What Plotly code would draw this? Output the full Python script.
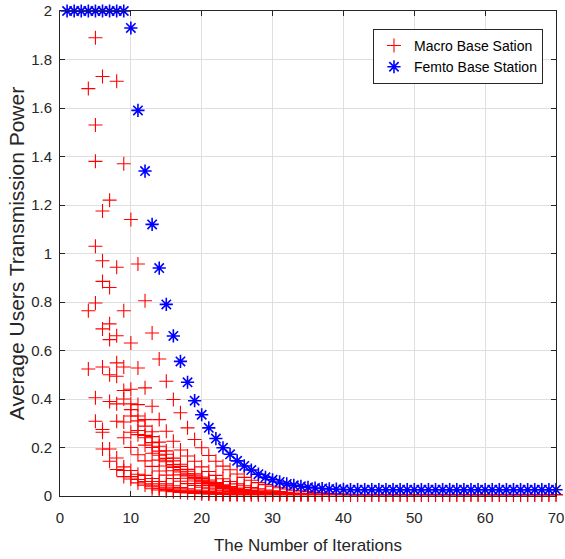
import plotly.graph_objects as go

# ---------------- data ----------------
iterations_ticks = [0, 10, 20, 30, 40, 50, 60, 70]
power_ticks = [0, 0.2, 0.4, 0.6, 0.8, 1, 1.2, 1.4, 1.6, 1.8, 2]

# Femto base station: average power per iteration (iterations 1..70)
femto_power = [2.0, 2.0, 2.0, 2.0, 2.0, 2.0, 2.0, 2.0, 2.0,
               1.93, 1.59, 1.34, 1.12, 0.94, 0.79, 0.66, 0.555, 0.469, 0.393,
               0.335, 0.281, 0.237, 0.199, 0.172, 0.145, 0.124, 0.107, 0.090, 0.077,
               0.067, 0.058, 0.050, 0.044, 0.040, 0.036, 0.033, 0.031, 0.029, 0.028,
               0.027, 0.026, 0.026, 0.026, 0.026, 0.026, 0.026, 0.026, 0.026, 0.026,
               0.026, 0.026, 0.026, 0.026, 0.026, 0.026, 0.026, 0.026, 0.026, 0.026,
               0.026, 0.026, 0.026, 0.026, 0.026, 0.026, 0.026, 0.026, 0.026, 0.026,
               0.026]

# Macro base station users: visible values per iteration (first column = iteration 4)
macro_start_early = 4
macro_early = [
    [1.68, 0.764, 0.524],
    [1.89, 1.53, 1.38, 1.03, 0.796, 0.405, 0.308],
    [1.73, 1.175, 0.97, 0.885, 0.689, 0.532, 0.274, 0.263, 0.194],
    [1.22, 0.86, 0.71, 0.645, 0.50, 0.39, 0.194, 0.143],
    [1.71, 0.943, 0.661, 0.549, 0.494, 0.38, 0.308, 0.157, 0.109],
    [1.37, 0.764, 0.532, 0.435, 0.40, 0.305, 0.24, 0.12, 0.105, 0.08],
    [1.14, 0.631, 0.44, 0.38, 0.356, 0.33, 0.263, 0.20, 0.105, 0.08, 0.07],
    [0.957, 0.528, 0.377, 0.33, 0.31, 0.27, 0.253, 0.17, 0.09, 0.068, 0.054],
    [0.805, 0.446, 0.315, 0.288, 0.25, 0.24, 0.21, 0.145, 0.085, 0.06, 0.045],
]
macro_start_mid = 13
macro_mid = [
    [0.672, 0.37, 0.265, 0.245, 0.22, 0.20, 0.176, 0.122, 0.072, 0.05, 0.038, 0.03],
    [0.565, 0.315, 0.222, 0.205, 0.185, 0.168, 0.148, 0.103, 0.06, 0.042, 0.032, 0.025],
    [0.473, 0.267, 0.186, 0.172, 0.155, 0.141, 0.124, 0.086, 0.05, 0.036, 0.027, 0.021],
    [0.398, 0.226, 0.156, 0.145, 0.13, 0.118, 0.104, 0.072, 0.042, 0.03, 0.023, 0.018],
    [0.343, 0.19, 0.131, 0.122, 0.109, 0.099, 0.087, 0.061, 0.035, 0.025, 0.019, 0.015],
    [0.281, 0.165, 0.11, 0.102, 0.092, 0.083, 0.073, 0.051, 0.03, 0.021, 0.016, 0.013],
    [0.233, 0.143, 0.092, 0.086, 0.077, 0.07, 0.062, 0.043, 0.025, 0.018, 0.013, 0.011],
    [0.199, 0.12, 0.078, 0.072, 0.065, 0.059, 0.052, 0.036, 0.021, 0.015, 0.011, 0.009],
    [0.167, 0.101, 0.066, 0.061, 0.055, 0.05, 0.044, 0.03, 0.018, 0.013, 0.009, 0.008],
    [0.143, 0.085, 0.055, 0.051, 0.046, 0.042, 0.037, 0.025, 0.015, 0.011, 0.008, 0.007],
    [0.123, 0.071, 0.046, 0.043, 0.039, 0.035, 0.031, 0.021, 0.013, 0.009, 0.007, 0.006],
    [0.108, 0.06, 0.039, 0.036, 0.033, 0.03, 0.026, 0.018, 0.011, 0.008, 0.006, 0.005],
    [0.091, 0.05, 0.033, 0.03, 0.027, 0.025, 0.022, 0.015, 0.009, 0.007, 0.005],
]
macro_start_late = 26
macro_late = [
    [0.077, 0.042, 0.028, 0.026, 0.023, 0.021, 0.018, 0.013, 0.008, 0.006, 0.005],
    [0.065, 0.035, 0.023, 0.022, 0.019, 0.018, 0.015, 0.011, 0.007, 0.005],
    [0.055, 0.03, 0.02, 0.018, 0.016, 0.015, 0.013, 0.009, 0.006, 0.005],
    [0.047, 0.025, 0.017, 0.015, 0.014, 0.013, 0.011, 0.008, 0.005],
    [0.04, 0.021, 0.014, 0.013, 0.012, 0.011, 0.009, 0.007, 0.005],
    [0.034, 0.018, 0.012, 0.011, 0.01, 0.009, 0.008, 0.006, 0.005],
    [0.029, 0.015, 0.01, 0.009, 0.008, 0.007, 0.005],
    [0.024, 0.012, 0.009, 0.008, 0.007, 0.006, 0.005],
    [0.021, 0.01, 0.008, 0.007, 0.006, 0.005],
    [0.018, 0.009, 0.007, 0.006, 0.005],
    [0.015, 0.008, 0.006, 0.005],
    [0.013, 0.007, 0.005],
    [0.011, 0.006, 0.005],
    [0.009, 0.006, 0.005],
    [0.008, 0.005],
]
macro_tail_start = 41
macro_tail_end = 70
macro_tail_values = [0.006, 0.004]

# ---------------- build marks ----------------
femto_x = list(range(1, len(femto_power) + 1))

macro_x, macro_y = [], []
for start, block in ((macro_start_early, macro_early),
                     (macro_start_mid, macro_mid),
                     (macro_start_late, macro_late)):
    for i, col in enumerate(block):
        for v in col:
            macro_x.append(start + i)
            macro_y.append(v)
for it in range(macro_tail_start, macro_tail_end + 1):
    for v in macro_tail_values:
        macro_x.append(it)
        macro_y.append(v)

FONT = "Liberation Sans, Arial, sans-serif"
AX = "#262626"

fig = go.Figure()
fig.add_trace(go.Scatter(
    x=macro_x, y=macro_y, mode="markers", name="Macro Base Sation",
    cliponaxis=False,
    marker=dict(symbol="cross-thin", size=10, color="#ff0000",
                line=dict(color="#ff0000", width=1.1)),
))
fig.add_trace(go.Scatter(
    x=femto_x, y=femto_power, mode="markers", name="Femto Base Station",
    cliponaxis=False,
    marker=dict(symbol="asterisk-open", size=11, color="#0000ff",
                line=dict(color="#0000ff", width=1.6)),
))

axis_common = dict(
    showline=True, linecolor=AX, linewidth=1, mirror="ticks",
    ticks="inside", ticklen=5, tickcolor=AX, tickwidth=1,
    showgrid=True, gridcolor="#dfdfdf", gridwidth=1,
    zeroline=False, automargin=False,
    tickfont=dict(family=FONT, size=15, color=AX),
)

fig.update_layout(
    width=565, height=559,
    margin=dict(l=60, r=9, t=11, b=63),
    paper_bgcolor="white", plot_bgcolor="white",
    showlegend=True,
    legend=dict(
        x=0.631, y=0.963, xanchor="left", yanchor="top",
        bgcolor="white", bordercolor=AX, borderwidth=1,
        font=dict(family=FONT, size=14, color="#000000"),
        itemwidth=30,
    ),
    xaxis=dict(
        range=[0, 70], tickvals=iterations_ticks,
        ticktext=[str(v) for v in iterations_ticks],
        ticklabelstandoff=8,
        title=dict(text="The Number of Iterations",
                   font=dict(family=FONT, size=17, color=AX), standoff=14),
        **axis_common,
    ),
    yaxis=dict(
        range=[0, 2], tickvals=power_ticks,
        ticktext=[("%g" % v) for v in power_ticks],
        ticklabelstandoff=4,
        title=dict(text="Average Users Transmission Power",
                   font=dict(family=FONT, size=21, color=AX), standoff=0),
        **axis_common,
    ),
)

fig.write_html(
    "out.html",
    config={"displayModeBar": False},
    post_script="document.body.style.margin='0';document.body.style.overflow='hidden';",
)
